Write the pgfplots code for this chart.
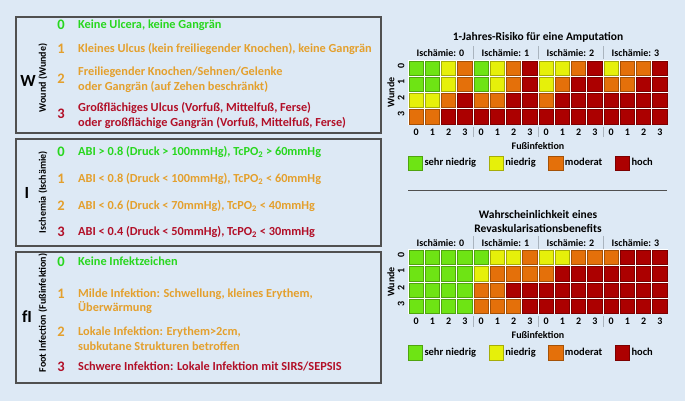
\documentclass[border=0pt]{standalone}
\usepackage{fontspec}
\setmainfont{Carlito}
\usepackage{pgfplots}
\pgfplotsset{compat=1.18}
\usepackage{pgfplotstable}

\definecolor{bg}{RGB}{221,233,245}
\definecolor{boxc}{RGB}{80,80,80}
\definecolor{cg}{RGB}{40,215,30}
\definecolor{co}{RGB}{228,160,45}
\definecolor{cr}{RGB}{178,16,40}
\definecolor{vlC}{RGB}{110,228,20}
\definecolor{lC}{RGB}{230,240,10}
\definecolor{mC}{RGB}{228,112,10}
\definecolor{hC}{RGB}{172,0,0}
\definecolor{sepc}{RGB}{170,180,190}

% I = Ischaemie, fI = Fussinfektion, W = Wunde
% amp = 1-Jahres-Amputationsrisiko, rev = Revaskularisationsbenefit
% 1 = sehr niedrig, 2 = niedrig, 3 = moderat, 4 = hoch
\pgfplotstableread{
I fI W amp rev
0 0 0 1 1
0 1 0 1 1
0 2 0 2 1
0 3 0 3 1
1 0 0 1 1
1 1 0 2 2
1 2 0 3 2
1 3 0 4 3
2 0 0 2 2
2 1 0 2 2
2 2 0 3 3
2 3 0 4 3
3 0 0 2 3
3 1 0 3 4
3 2 0 3 4
3 3 0 4 4
0 0 1 1 1
0 1 1 1 1
0 2 1 2 1
0 3 1 3 1
1 0 1 1 2
1 1 1 2 3
1 2 1 3 3
1 3 1 4 3
2 0 1 2 3
2 1 1 3 4
2 2 1 4 4
2 3 1 4 4
3 0 1 3 4
3 1 1 3 4
3 2 1 4 4
3 3 1 4 4
0 0 2 2 1
0 1 2 2 1
0 2 2 3 1
0 3 2 4 1
1 0 2 3 3
1 1 2 3 3
1 2 2 4 4
1 3 2 4 4
2 0 2 3 4
2 1 2 4 4
2 2 2 4 4
2 3 2 4 4
3 0 2 4 4
3 1 2 4 4
3 2 2 4 4
3 3 2 4 4
0 0 3 3 1
0 1 3 3 1
0 2 3 4 1
0 3 3 4 1
1 0 3 4 3
1 1 3 4 3
1 2 3 4 3
1 3 3 4 4
2 0 3 4 4
2 1 3 4 4
2 2 3 4 4
2 3 3 4 4
3 0 3 4 4
3 1 3 4 4
3 2 3 4 4
3 3 3 4 4
}\wifi

\pgfplotsset{gridax/.style={
  scale only axis, width=260pt, height=65pt,
  xmin=-0.5, xmax=15.5, ymin=-0.5, ymax=3.5, y dir=reverse,
  axis line style={draw=none}, major tick length=0pt,
  /pgf/number format/assume math mode=true,
  xtick={0,...,15}, xticklabels={0,1,2,3,0,1,2,3,0,1,2,3,0,1,2,3},
  ytick={0,1,2,3}, yticklabels={0,1,2,3},
  yticklabel style={rotate=90, anchor=south, xshift=2.5pt},
  tick label style={font=\bfseries\fontsize{10}{12}\selectfont, text=black},
  xlabel={Fußinfektion}, ylabel={Wunde},
  ylabel style={xshift=0pt, yshift=-3.5pt},
  label style={font=\bfseries\fontsize{10}{12}\selectfont},
  clip=false,
  axis background/.style={fill=white},
  colormap={risk}{rgb255=(110,228,20) rgb255=(230,240,10) rgb255=(228,112,10) rgb255=(172,0,0)},
  point meta min=1, point meta max=4,
  legend columns=4,
  legend style={draw=none, fill=none, inner sep=0pt, anchor=west,
    font=\bfseries\fontsize{10.5}{12}\selectfont,
    /tikz/every even column/.append style={column sep=11pt}},
},
cells/.style={scatter, only marks, mark=square*, mark size=7.1pt,
  line width=0.6pt, point meta=explicit, forget plot,
  scatter/use mapped color={draw=mapped color!72!black, fill=mapped color}},
legsq/.style={only marks, mark=square*, mark size=7.1pt, line width=0.6pt,
  draw=#1!72!black, fill=#1}
}

\begin{document}
\begin{tikzpicture}
\useasboundingbox (0,0) rectangle (685pt,401pt);
\fill[bg] (0,0) rectangle (685pt,401pt);

\begin{axis}[gridax, at={(408pt,276pt)}, anchor=south west,
  legend style={at={(0,-0.585)}}]
\addplot[cells] table[x expr=\thisrow{I}*4+\thisrow{fI}, y=W, meta=amp] {\wifi};
\addlegendimage{legsq=vlC}
\addlegendimage{legsq=lC}
\addlegendimage{legsq=mC}
\addlegendimage{legsq=hC}
\legend{sehr niedrig, niedrig, moderat, hoch}
\end{axis}

\begin{axis}[gridax, at={(408pt,86.5pt)}, anchor=south west,
  legend style={at={(0,-0.59)}}]
\addplot[cells] table[x expr=\thisrow{I}*4+\thisrow{fI}, y=W, meta=rev] {\wifi};
\addlegendimage{legsq=vlC}
\addlegendimage{legsq=lC}
\addlegendimage{legsq=mC}
\addlegendimage{legsq=hC}
\legend{sehr niedrig, niedrig, moderat, hoch}
\end{axis}

\begin{scope}[x=1pt, y=-1pt, yshift=401pt, every node/.style={inner sep=0pt}]
% boxes
\draw[boxc, line width=1.2pt] (16,17) rectangle (381,133);
\draw[boxc, line width=1.2pt] (16,139) rectangle (381,246);
\draw[boxc, line width=1.2pt] (16,252) rectangle (381,383);

\tikzset{big/.style={font=\bfseries\fontsize{17}{17}\selectfont},
  rot/.style={rotate=90, font=\bfseries\fontsize{10}{10}\selectfont},
  num/.style={anchor=base, font=\bfseries\fontsize{14.5}{14.5}\selectfont},
  txt/.style={anchor=base west, font=\bfseries\fontsize{12.3}{14}\selectfont}}

% W
\node[big] at (28,81) {W};
\node[rot] at (43,78) {Wound (Wunde)};
\node[num, text=cg] at (61,29.5) {0};
\node[txt, text=cg] at (78,29) {Keine Ulcera, keine Gangrän};
\node[num, text=co] at (61,53.5) {1};
\node[txt, text=co] at (78,53) {Kleines Ulcus (kein freiliegender Knochen), keine Gangrän};
\node[num, text=co] at (61,83.5) {2};
\node[txt, text=co] at (78,76) {Freiliegender Knochen/Sehnen/Gelenke};
\node[txt, text=co] at (78,91) {oder Gangrän (auf Zehen beschränkt)};
\node[num, text=cr] at (61,119) {3};
\node[txt, text=cr] at (78,112) {Großflächiges Ulcus (Vorfuß, Mittelfuß, Ferse)};
\node[txt, text=cr] at (78,127) {oder großflächige Gangrän (Vorfuß, Mittelfuß, Ferse)};

% I
\node[big] at (27,193) {I};
\node[rot] at (43,192) {Ischemia (Ischämie)};
\node[num, text=cg] at (61,156.5) {0};
\node[txt, text=cg] at (78,156) {ABI > 0.8 (Druck > 100mmHg), TcPO\textsubscript{2} > 60mmHg};
\node[num, text=co] at (61,183.5) {1};
\node[txt, text=co] at (78,183) {ABI < 0.8 (Druck < 100mmHg), TcPO\textsubscript{2} < 60mmHg};
\node[num, text=co] at (61,210.5) {2};
\node[txt, text=co] at (78,210) {ABI < 0.6 (Druck < 70mmHg), TcPO\textsubscript{2} < 40mmHg};
\node[num, text=cr] at (61,236.5) {3};
\node[txt, text=cr] at (78,236) {ABI < 0.4 (Druck < 50mmHg), TcPO\textsubscript{2} < 30mmHg};

% fI
\node[big] at (27,317) {fI};
\node[rot] at (43,313) {Foot Infection (Fußinfektion)};
\node[num, text=cg] at (61,267) {0};
\node[txt, text=cg] at (78,266) {Keine Infektzeichen};
\node[num, text=co] at (61,299) {1};
\node[txt, text=co] at (78,298) {Milde Infektion: Schwellung, kleines Erythem,};
\node[txt, text=co] at (78,312) {Überwärmung};
\node[num, text=co] at (61,336.5) {2};
\node[txt, text=co] at (78,336) {Lokale Infektion: Erythem>2cm,};
\node[txt, text=co] at (78,351) {subkutane Strukturen betroffen};
\node[num, text=cr] at (61,371.5) {3};
\node[txt, text=cr] at (78,371) {Schwere Infektion: Lokale Infektion mit SIRS/SEPSIS};

% right side titles and headers
\tikzset{ttl/.style={font=\bfseries\fontsize{11.5}{13}\selectfont},
  hdr/.style={font=\bfseries\fontsize{10}{12}\selectfont}}
\node[ttl] at (538,37) {1-Jahres-Risiko für eine Amputation};
\node[ttl] at (538,215) {Wahrscheinlichkeit eines};
\node[ttl] at (538,229) {Revaskularisationsbenefits};
\foreach \cx/\g in {440.5/0, 505.5/1, 570.5/2, 635.5/3}{
  \node[hdr] at (\cx,53) {Ischämie: \g};
  \node[hdr] at (\cx,243) {Ischämie: \g};
}
\foreach \sx in {473.5,538.5,603.5}{
  \draw[sepc, line width=0.7pt] (\sx,46) -- (\sx,59);
  \draw[sepc, line width=0.7pt] (\sx,127) -- (\sx,137);
  \draw[sepc, line width=0.7pt] (\sx,236) -- (\sx,249);
  \draw[sepc, line width=0.7pt] (\sx,316) -- (\sx,327);
}
\draw[boxc, line width=1pt] (408,191) -- (667,191);
\end{scope}
\end{tikzpicture}
\end{document}
